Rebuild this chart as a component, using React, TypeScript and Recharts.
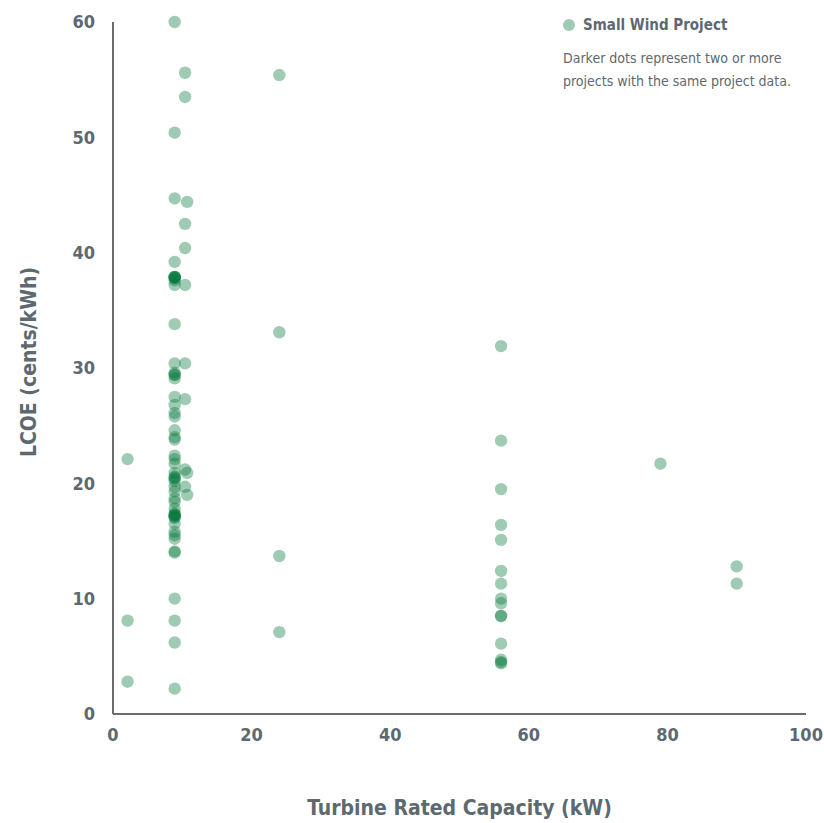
import { ScatterChart, Scatter, XAxis, YAxis } from "recharts";

// LCOE (cents/kWh) for each turbine rated capacity (kW)
const cap2 = [22.1, 8.1, 2.8];
const cap9 = [
  60.0, 50.4, 44.7, 39.2, 37.9, 37.9, 37.9, 37.8, 37.8, 37.6, 37.2, 33.8,
  30.4, 29.6, 29.4, 29.4, 29.1, 27.5, 26.8, 26.1, 25.8, 24.6, 24.0, 23.8,
  22.4, 22.1, 21.7, 20.9, 20.6, 20.5, 20.4, 20.2, 19.7, 19.3, 18.7, 18.4,
  17.8, 17.4, 17.3, 17.2, 17.2, 17.1, 17.0, 16.5, 15.8, 15.5, 15.2, 14.1,
  14.0, 10.0, 8.1, 6.2, 2.2,
];
const cap10_4 = [55.6, 53.5, 42.5, 40.4, 37.2, 30.4, 27.3, 21.2, 19.7];
const cap10_7 = [44.4, 20.9, 19.0];
const cap24 = [55.4, 33.1, 13.7, 7.1];
const cap56 = [
  31.9, 23.7, 19.5, 16.4, 15.1, 12.4, 11.3, 10.0, 9.6, 8.5, 8.5, 6.1, 4.7,
  4.5, 4.4,
];
const cap79 = [21.7];
const cap90 = [12.8, 11.3];

const groups: [number, number[]][] = [
  [2.1, cap2],
  [8.9, cap9],
  [10.4, cap10_4],
  [10.7, cap10_7],
  [24, cap24],
  [56, cap56],
  [79, cap79],
  [90, cap90],
];

const xTicks = [0, 20, 40, 60, 80, 100];
const yTicks = [0, 10, 20, 30, 40, 50, 60];

const data = groups.flatMap(([cap, vals]) =>
  vals.map((lcoe) => ({ cap, lcoe }))
);

const FONT = "'DejaVu Sans Condensed', 'Liberation Sans Narrow', sans-serif";
const TEXT = "#5d6970";

const Dot = (props: any) => (
  <circle cx={props.cx} cy={props.cy} r={6.2} fill="#02763a" fillOpacity={0.38} />
);

// legend sits over the chart so it doesn't push the plot area down
const LegendBox = () => (
  <div
    style={{
      position: "absolute",
      top: 16,
      left: 563,
      width: 260,
      fontFamily: FONT,
      color: TEXT,
    }}
  >
    <div style={{ display: "flex", alignItems: "center", fontWeight: "bold", fontSize: 15 }}>
      <span
        style={{
          width: 12,
          height: 12,
          borderRadius: 6,
          background: "#9fcbb3",
          display: "inline-block",
          marginRight: 8,
        }}
      />
      Small Wind Project
    </div>
    <div style={{ fontSize: 14, lineHeight: "23px", marginTop: 13 }}>
      Darker dots represent two or more
      <br />
      projects with the same project data.
    </div>
  </div>
);

export default function App() {
  return (
    <div style={{ position: "relative", width: 824, height: 823 }}>
      <style>{"body{margin:0}"}</style>
      <ScatterChart
        width={824}
        height={823}
        margin={{ top: 22, right: 18, left: 0, bottom: 0 }}
      >
        <XAxis
          type="number"
          dataKey="cap"
          domain={[0, 100]}
          ticks={xTicks}
          tickLine={false}
          tickSize={0}
          tickMargin={14}
          height={109}
          axisLine={{ stroke: "#6b6b6b", strokeWidth: 2 }}
          tick={{ fill: TEXT, fontSize: 18, fontWeight: "bold", fontFamily: FONT }}
          label={{
            value: "Turbine Rated Capacity (kW)",
            position: "insideBottom",
            offset: 8,
            fill: TEXT,
            fontSize: 21,
            fontWeight: "bold",
            fontFamily: FONT,
          }}
        />
        <YAxis
          type="number"
          dataKey="lcoe"
          domain={[0, 60]}
          ticks={yTicks}
          tickLine={false}
          tickSize={0}
          tickMargin={18}
          width={113}
          axisLine={{ stroke: "#6b6b6b", strokeWidth: 2 }}
          tick={{ fill: TEXT, fontSize: 18, fontWeight: "bold", fontFamily: FONT }}
          label={{
            value: "LCOE (cents/kWh)",
            angle: -90,
            position: "center",
            dx: -28,
            dy: -6,
            fill: TEXT,
            fontSize: 21,
            fontWeight: "bold",
            fontFamily: FONT,
          }}
        />
        <Scatter
          name="Small Wind Project"
          data={data}
          shape={Dot}
          isAnimationActive={false}
        />
      </ScatterChart>
      <LegendBox />
    </div>
  );
}
